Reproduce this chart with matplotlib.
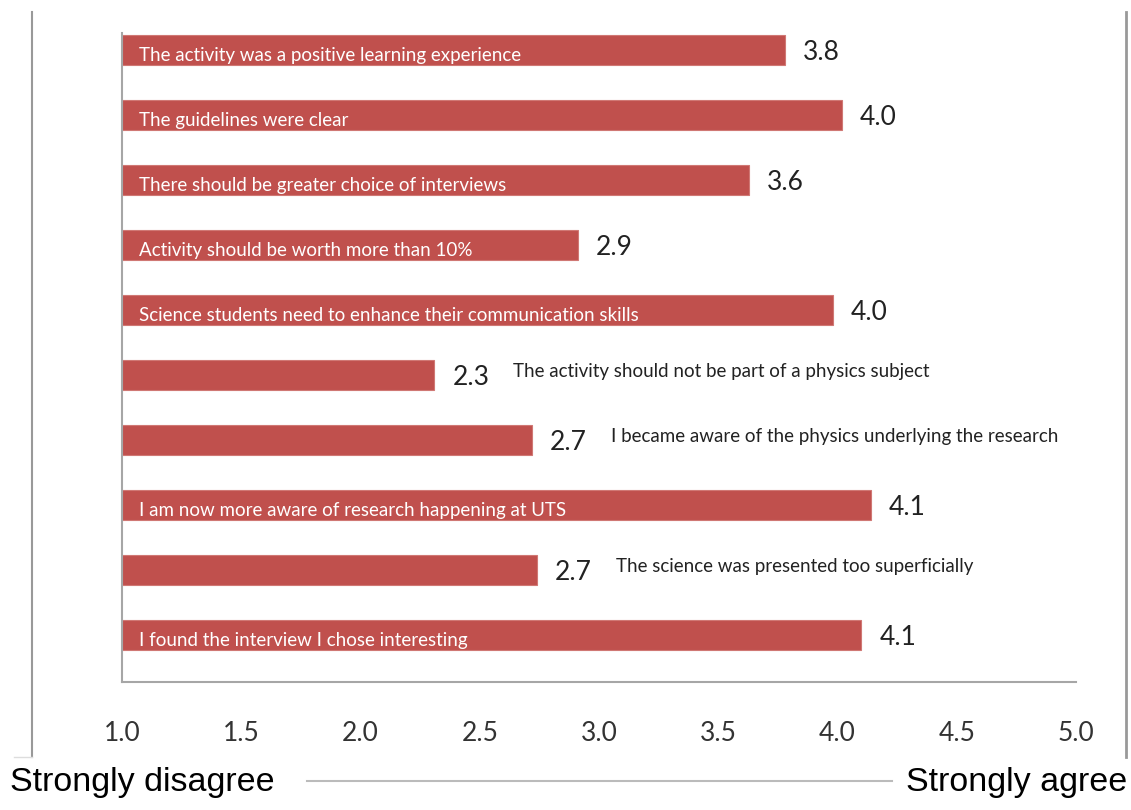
import matplotlib
matplotlib.use('Agg')
import matplotlib.pyplot as plt
from matplotlib.lines import Line2D

# Survey statements (top to bottom) and mean scores
statements = [
    'The activity was a positive learning experience',
    'The guidelines were clear',
    'There should be greater choice of interviews',
    'Activity should be worth more than 10%',
    'Science students need to enhance their communication skills',
    'The activity should not be part of a physics subject',
    'I became aware of the physics underlying the research',
    'I am now more aware of research happening at UTS',
    'The science was presented too superficially',
    'I found the interview I chose interesting',
]
scores = [3.78, 4.02, 3.63, 2.91, 3.98, 2.31, 2.72, 4.14, 2.74, 4.10]
score_labels = ['3.8', '4.0', '3.6', '2.9', '4.0', '2.3', '2.7', '4.1', '2.7', '4.1']
# statements printed outside the bar, next to the value
outside = [False, False, False, False, False, True, True, False, True, False]
xticks = [1.0, 1.5, 2.0, 2.5, 3.0, 3.5, 4.0, 4.5, 5.0]

bar_color = '#C0504D'
grey = '#A6A6A6'
base = 1.0

fig = plt.figure(figsize=(11.31, 8.1), dpi=100)
ax = fig.add_axes([0.1079, 0.158, 0.8435, 0.8012])

ypos = list(range(len(statements)))
widths = [s - base for s in scores]
ax.barh(ypos, widths, left=base, height=0.46, color=bar_color,
        edgecolor='#D07874', linewidth=0.8)

for y, s, lab, txt, out in zip(ypos, scores, score_labels, statements, outside):
    ax.text(s + 0.075, y + 0.04, lab, va='center', ha='left', fontsize=19,
            family='Lato', color='#222222')
    if out:
        ax.text(s + 0.33, y - 0.06, txt, va='center', ha='left', fontsize=13.5,
                family='Lato', color='#222222')
    else:
        ax.text(base + 0.07, y + 0.08, txt, va='center', ha='left', fontsize=13.5,
                family='Lato', color='white')

ax.set_xlim(1.0, 5.0)
ax.set_ylim(9.72, -0.26)
ax.set_xticks(xticks)
ax.set_xticklabels([f'{t:.1f}' for t in xticks], family='Lato', fontsize=19,
                   color='#333333')
ax.tick_params(axis='x', length=0, pad=28)
ax.set_yticks([])
for side in ['top', 'right']:
    ax.spines[side].set_visible(False)
for side in ['left', 'bottom']:
    ax.spines[side].set_color(grey)
    ax.spines[side].set_linewidth(1.5)

# outer frame lines and the scale arrow between the anchors
fig.add_artist(Line2D([0.0283, 0.0283], [0.0654, 0.985], color='#999999', lw=1.5))
fig.add_artist(Line2D([0.9956, 0.9956], [0.0654, 0.985], color='#999999', lw=2))
fig.add_artist(Line2D([0.012, 0.0283], [0.0654, 0.0654], color='#DDDDDD', lw=1))
fig.add_artist(Line2D([0.271, 0.789], [0.0358, 0.0358], color='#BBBBBB', lw=1.5))

fig.text(0.009, 0.024, 'Strongly disagree', family='Liberation Sans', fontsize=24.5,
         ha='left', va='baseline', color='black')
fig.text(0.997, 0.024, 'Strongly agree', family='Liberation Sans', fontsize=24.5,
         ha='right', va='baseline', color='black')

plt.savefig('out.png', dpi=100)
plt.close()
